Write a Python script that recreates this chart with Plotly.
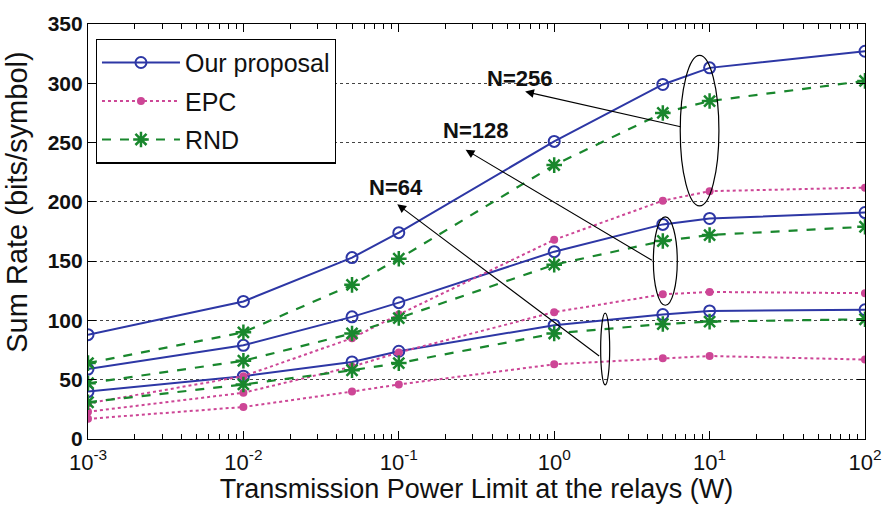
import plotly.graph_objects as go

# Transmission power limit at the relays (W)
power = [1e-3, 1e-2, 5e-2, 1e-1, 1, 5, 10, 100]

# Sum rate (bits/symbol) for each scheme and number of relays N
ours_256 = [88, 116, 153, 174, 251, 299, 313, 327]
ours_128 = [59, 79, 103, 115, 158, 181, 186, 191]
ours_64 = [40, 53, 65, 74, 96, 105, 108, 109]

epc_256 = [30, 53, 85, 105, 168, 201, 209, 212]
epc_128 = [23, 39, 61, 73, 107, 122, 124, 123]
epc_64 = [17, 27, 40, 46, 63, 68, 70, 67]

rnd_256 = [64, 90, 130, 152, 231, 275, 285, 302]
rnd_128 = [47, 66, 89, 102, 147, 167, 172, 179]
rnd_64 = [31, 46, 58, 64, 89, 97, 99, 101]

x_tickvals = [1e-3, 1e-2, 1e-1, 1, 10, 100]
x_ticktext = ["10<sup>-3</sup>", "10<sup>-2</sup>", "10<sup>-1</sup>",
              "10<sup>0</sup>", "10<sup>1</sup>", "10<sup>2</sup>"]
x_minor = [k * 10.0 ** d for d in range(-3, 2) for k in range(2, 10)]
y_tickvals = [0, 50, 100, 150, 200, 250, 300, 350]

BLUE = "rgb(45,55,165)"
PINK = "rgb(205,70,150)"
GREEN = "rgb(25,135,45)"

styles = {
    "Our proposal": dict(line=dict(color=BLUE, width=2, dash="solid"),
                         marker=dict(symbol="circle-open", size=11,
                                     color=BLUE, line=dict(width=2))),
    "EPC": dict(line=dict(color=PINK, width=2, dash="dot"),
                marker=dict(symbol="circle", size=8, color=PINK)),
    "RND": dict(line=dict(color=GREEN, width=2.2, dash="dash"),
                marker=dict(symbol="asterisk-open", size=13,
                            color=GREEN, line=dict(width=2.5, color=GREEN))),
}

series = [
    ("Our proposal", ours_256), ("Our proposal", ours_128), ("Our proposal", ours_64),
    ("EPC", epc_256), ("EPC", epc_128), ("EPC", epc_64),
    ("RND", rnd_256), ("RND", rnd_128), ("RND", rnd_64),
]

fig = go.Figure()
shown = set()
for name, vals in series:
    fig.add_trace(go.Scatter(
        x=power, y=vals, mode="lines+markers", name=name,
        legendgroup=name, showlegend=name not in shown,
        **styles[name],
    ))
    shown.add(name)

FONT = "Liberation Sans"

# Ellipses grouping the curves for each N: (log10 x0, log10 x1, y0, y1)
ellipses = [
    (0.811, 1.060, 196.6, 323.5),
    (0.638, 0.792, 112.8, 187.4),
    (0.299, 0.357, 45.6, 106.2),
]
for lx0, lx1, y0, y1 in ellipses:
    fig.add_shape(type="circle", xref="x", yref="y",
                  x0=10 ** lx0, x1=10 ** lx1, y0=y0, y1=y1,
                  line=dict(color="black", width=1.2))

# Labels with arrows pointing from each ellipse (x in log10 units)
labels = [
    ("N=256", -0.225, 304, 0.823, 263, -0.187, 293),
    ("N=128", -0.506, 260, 0.638, 150, -0.570, 244),
    ("N=64", -1.02, 212, 0.299, 69, -1.01, 198),
]
for text, tx, ty, ax0, ay0, hx, hy in labels:
    fig.add_annotation(x=tx, y=ty, xref="x", yref="y", text=f"<b>{text}</b>",
                       showarrow=False, font=dict(family=FONT, size=22, color="#111"))
    fig.add_annotation(x=hx, y=hy, ax=ax0, ay=ay0, xref="x", yref="y",
                       axref="x", ayref="y", text="", showarrow=True,
                       arrowhead=2, arrowsize=1.6, arrowwidth=1.1,
                       arrowcolor="black")

# Y-axis title, placed slightly above the plot's vertical centre
fig.add_annotation(text="Sum Rate (bits/symbol)", xref="paper", yref="paper",
                   x=-0.091, y=0.57, xanchor="center", yanchor="middle",
                   textangle=-90, showarrow=False,
                   font=dict(family=FONT, size=29, color="#111"))

fig.update_layout(
    width=894, height=509,
    margin=dict(l=88, r=22, t=17, b=70),
    paper_bgcolor="white", plot_bgcolor="white",
    font=dict(family=FONT, color="black"),
    showlegend=True,
    legend=dict(x=0.01, y=0.965, xanchor="left", yanchor="top",
                bordercolor="black", borderwidth=1.2, bgcolor="white",
                font=dict(family=FONT, size=25, color="#111"), tracegroupgap=3,
                traceorder="grouped", itemwidth=78),
    xaxis=dict(type="log", range=[-3, 2], tickvals=x_tickvals, ticktext=x_ticktext,
               ticks="inside", ticklen=8, tickcolor="black", showline=True,
               linecolor="black", linewidth=1.2, mirror="allticks", showgrid=False,
               zeroline=False, tickfont=dict(size=22, color="#111"),
               ticklabelstandoff=3,
               minor=dict(tickvals=x_minor, ticks="inside", ticklen=5,
                          tickcolor="black", showgrid=False),
               title=dict(text="Transmission Power Limit at the relays (W)",
                          font=dict(size=27, color="#111"), standoff=2)),
    yaxis=dict(range=[0, 350], tickvals=y_tickvals,
               ticktext=[f"<b>{v}</b>" for v in y_tickvals],
               ticks="inside", ticklen=8,
               tickcolor="black", showline=True, linecolor="black", linewidth=1.2,
               mirror="allticks", showgrid=True, gridcolor="#444", griddash="dot",
               gridwidth=1, zeroline=False,
               tickfont=dict(size=21, family=FONT, color="#111")),
)

fig.write_html("out.html")
